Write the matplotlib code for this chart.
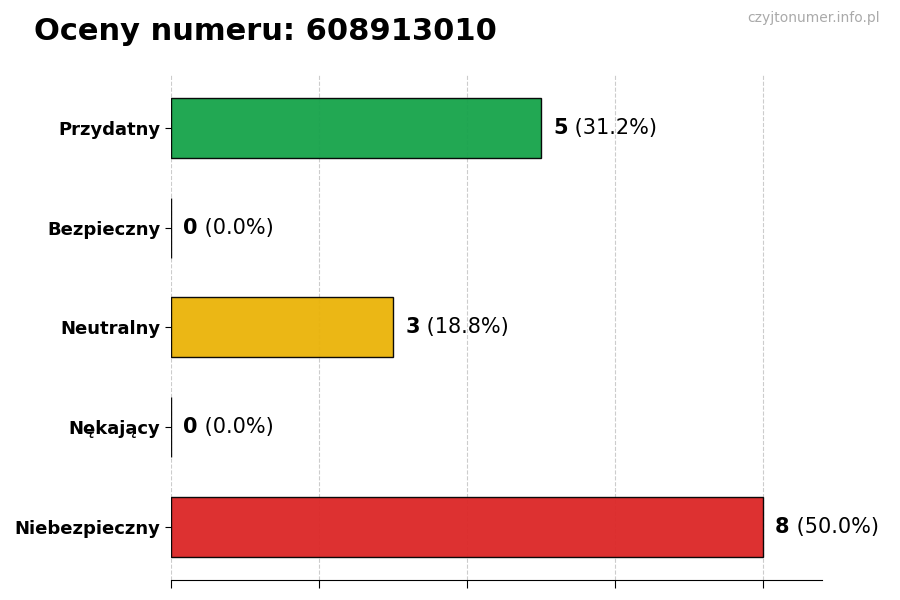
import matplotlib
matplotlib.use("Agg")
import matplotlib.pyplot as plt

numer = "608913010"
kategorie = ["Przydatny", "Bezpieczny", "Neutralny", "Nękający", "Niebezpieczny"]
liczby = [5, 0, 3, 0, 8]
kolory = ["#16a34a", "#3b82f6", "#eab308", "#f97316", "#dc2626"]

suma = sum(liczby)

fig = plt.figure(figsize=(9, 6), dpi=100)
ax = fig.add_axes([0.19, 0.0333, 0.723, 0.842])

pozycje = list(range(len(kategorie)))[::-1]
ax.barh(pozycje, liczby, height=0.6, color=kolory, edgecolor="black", linewidth=1,
        alpha=0.95, zorder=3)
ax.set_xlim(0, max(liczby) * 1.1)

ax.set_yticks(pozycje)
ax.set_yticklabels(kategorie, fontsize=13, fontweight="bold")
ax.set_xticks(range(0, max(liczby) + 1, 2))
ax.set_xticklabels([])
ax.tick_params(axis="x", length=6)
ax.tick_params(axis="y", length=4)

ax.grid(axis="x", linestyle="--", color="#cccccc", linewidth=0.8, zorder=0)
ax.set_axisbelow(True)
for s in ["top", "right", "left"]:
    ax.spines[s].set_visible(False)

for y, v in zip(pozycje, liczby):
    proc = 100 * v / suma
    t = ax.annotate(str(v), xy=(v, y), xytext=(9, 0), textcoords="offset points",
                    va="center", ha="left", fontsize=15, fontweight="bold")
    ax.annotate(" (%.1f%%)" % proc, xycoords=t, xy=(1, 0.5), va="center", ha="left",
                fontsize=15)

fig.text(0.038, 0.948, "Oceny numeru: " + numer, fontsize=22, fontweight="bold", va="center")
fig.text(0.978, 0.97, "czyjtonumer.info.pl", fontsize=10, color="#aaaaaa", ha="right", va="center")

fig.savefig("out.png", dpi=100)
